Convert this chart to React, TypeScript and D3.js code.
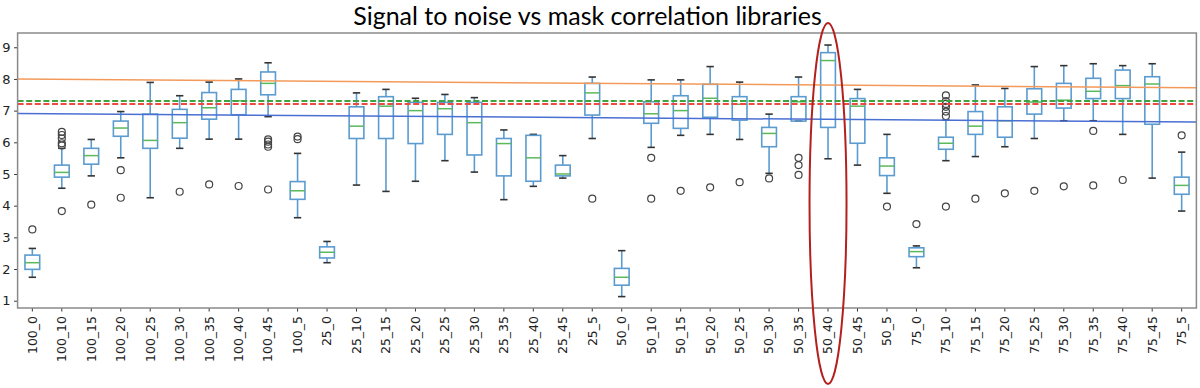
import React, { useEffect, useRef } from 'react';
import * as d3 from 'd3';

const categories = [
  '100_0', '100_10', '100_15', '100_20', '100_25', '100_30', '100_35', '100_40', '100_45', '100_5',
  '25_0', '25_10', '25_15', '25_20', '25_25', '25_30', '25_35', '25_40', '25_45', '25_5',
  '50_0', '50_10', '50_15', '50_20', '50_25', '50_30', '50_35', '50_40', '50_45', '50_5',
  '75_0', '75_10', '75_15', '75_20', '75_25', '75_30', '75_35', '75_40', '75_45', '75_5',
];

const whiskerLow = [
  1.74, 4.55, 4.94, 5.51, 4.25, 5.81, 6.1, 6.1, 6.81, 3.62,
  2.2, 4.65, 4.45, 4.77, 5.42, 5.06, 4.19, 4.61, 4.87, 6.12,
  1.13, 5.84, 6.22, 6.25, 6.09, 5.02, 6.67, 5.48, 5.28, 4.39,
  2.04, 5.42, 5.55, 5.86, 6.12, 6.68, 6.68, 6.25, 4.87, 3.83,
];
const q1 = [
  1.99, 4.9, 5.31, 6.19, 5.81, 6.13, 6.73, 6.87, 7.5, 4.2,
  2.35, 6.12, 6.12, 5.96, 6.25, 5.6, 4.94, 4.77, 4.94, 6.86,
  1.49, 6.6, 6.44, 6.79, 6.7, 5.86, 6.67, 6.47, 5.97, 4.95,
  2.39, 5.78, 6.25, 6.16, 6.89, 7.08, 7.38, 7.38, 6.57, 4.36,
];
const medians = [
  2.2, 5.05, 5.58, 6.45, 6.06, 6.62, 7.09, 7.31, 7.86, 4.47,
  2.53, 6.51, 7.14, 7.0, 7.06, 6.62, 5.96, 5.51, 5.0, 7.56,
  1.74, 6.9, 7.0, 7.39, 7.2, 6.28, 7.28, 8.58, 7.14, 5.25,
  2.55, 5.97, 6.51, 6.68, 7.27, 7.33, 7.61, 7.79, 7.84, 4.64,
];
const q3 = [
  2.44, 5.28, 5.81, 6.67, 6.89, 7.04, 7.57, 7.67, 8.22, 4.76,
  2.7, 7.12, 7.44, 7.26, 7.26, 7.26, 6.12, 6.22, 5.28, 7.86,
  2.02, 7.28, 7.47, 7.83, 7.44, 6.47, 7.44, 8.83, 7.38, 5.51,
  2.67, 6.16, 6.97, 7.12, 7.69, 7.86, 8.02, 8.28, 8.07, 4.9,
];
const whiskerHigh = [
  2.65, 5.81, 6.09, 6.97, 7.89, 7.47, 7.9, 8.0, 8.51, 5.65,
  2.87, 7.56, 7.67, 7.39, 7.51, 7.41, 6.39, 6.25, 5.58, 8.06,
  2.58, 7.97, 7.97, 8.39, 7.9, 6.89, 8.06, 9.07, 7.67, 6.25,
  2.73, 6.7, 7.81, 7.7, 8.39, 8.42, 8.48, 8.42, 8.48, 5.69,
];
const outliers = [
  [3.25], [6.33, 6.23, 6.12, 5.97, 5.9, 3.83], [4.03], [5.12, 4.25], [], [4.44], [4.67], [4.62], [6.09, 6.02, 5.93, 5.86, 4.51], [6.18, 6.1],
  [], [], [], [], [], [], [], [], [], [4.22],
  [], [5.51, 4.22], [4.47], [4.58], [4.74], [4.86], [5.51, 5.28, 4.97], [], [], [3.97],
  [3.42], [7.48, 7.3, 7.21, 7.12, 6.97, 6.83, 3.97], [4.22], [4.39], [4.47], [4.61], [6.36, 4.64], [4.81], [], [6.22],
];

// reference lines: value at left edge, value at right edge
const orangeTrend = [8.0, 7.72];
const blueTrend = [6.91, 6.64];
const greenLevel = 7.3;
const redLevel = 7.21;
const yTicks = [1, 2, 3, 4, 5, 6, 7, 8, 9];

const App = () => {
  const svgRef = useRef<SVGSVGElement>(null);

  const width = 1200;
  const height = 388;
  const marginTop = 33;
  const marginRight = 3.6;
  const marginBottom = 80;
  const marginLeft = 17.6;

  useEffect(() => {
    const svg = d3.select(svgRef.current);
    svg.selectAll('*').remove();

    const x = d3.scaleBand<string>()
      .domain(categories)
      .range([marginLeft, width - marginRight])
      .padding(0);

    const y = d3.scaleLinear()
      .domain([0.77, 9.45])
      .range([height - marginBottom, marginTop]);

    const bw = x.bandwidth();
    const boxW = bw * 0.5;
    const capW = boxW * 0.5;
    const cx = (c: string) => (x(c) as number) + bw / 2;

    svg.append('rect')
      .attr('x', 0).attr('y', 0).attr('width', width).attr('height', height)
      .attr('fill', '#fff');

    // Y axis
    svg.append('g')
      .attr('transform', `translate(${marginLeft},0)`)
      .call(d3.axisLeft(y).tickValues(yTicks).tickFormat(d3.format('d')).tickSize(3.5).tickPadding(3.5))
      .call(g => g.select('.domain').remove())
      .call(g => g.selectAll('line').attr('stroke', '#333'))
      .call(g => g.selectAll('text')
        .attr('fill', '#222')
        .attr('font-size', 13)
        .attr('font-family', 'DejaVu Sans'));

    // X axis
    svg.append('g')
      .attr('transform', `translate(0,${height - marginBottom})`)
      .call(d3.axisBottom(x).tickSize(3.5).tickPadding(3.5))
      .call(g => g.select('.domain').remove())
      .call(g => g.selectAll('line').attr('stroke', '#333'))
      .call(g => g.selectAll('text')
        .attr('fill', '#222')
        .attr('font-size', 12.5)
        .attr('font-family', 'DejaVu Sans')
        .attr('transform', 'rotate(-90)')
        .attr('text-anchor', 'end')
        .attr('x', -8)
        .attr('y', 0)
        .attr('dy', '0.35em'));

    const boxes = svg.append('g')
      .selectAll('g')
      .data(categories)
      .join('g');

    // whiskers
    boxes.append('line')
      .attr('x1', d => cx(d)).attr('x2', d => cx(d))
      .attr('y1', (d, i) => y(whiskerLow[i])).attr('y2', (d, i) => y(q1[i]))
      .attr('stroke', '#5b9bd0').attr('stroke-width', 1.6);
    boxes.append('line')
      .attr('x1', d => cx(d)).attr('x2', d => cx(d))
      .attr('y1', (d, i) => y(q3[i])).attr('y2', (d, i) => y(whiskerHigh[i]))
      .attr('stroke', '#5b9bd0').attr('stroke-width', 1.6);

    // caps
    boxes.append('line')
      .attr('x1', d => cx(d) - capW / 2).attr('x2', d => cx(d) + capW / 2)
      .attr('y1', (d, i) => y(whiskerLow[i])).attr('y2', (d, i) => y(whiskerLow[i]))
      .attr('stroke', '#333').attr('stroke-width', 1.6);
    boxes.append('line')
      .attr('x1', d => cx(d) - capW / 2).attr('x2', d => cx(d) + capW / 2)
      .attr('y1', (d, i) => y(whiskerHigh[i])).attr('y2', (d, i) => y(whiskerHigh[i]))
      .attr('stroke', '#333').attr('stroke-width', 1.6);

    // boxes
    boxes.append('rect')
      .attr('x', d => cx(d) - boxW / 2)
      .attr('width', boxW)
      .attr('y', (d, i) => y(q3[i]))
      .attr('height', (d, i) => y(q1[i]) - y(q3[i]))
      .attr('fill', 'none')
      .attr('stroke', '#5b9bd0').attr('stroke-width', 1.6);

    // medians
    boxes.append('line')
      .attr('x1', d => cx(d) - boxW / 2).attr('x2', d => cx(d) + boxW / 2)
      .attr('y1', (d, i) => y(medians[i])).attr('y2', (d, i) => y(medians[i]))
      .attr('stroke', '#5cb85c').attr('stroke-width', 1.5);

    // fliers
    boxes.selectAll('circle')
      .data((d, i) => outliers[i].map(v => ({ c: d, v })))
      .join('circle')
      .attr('cx', d => cx(d.c))
      .attr('cy', d => y(d.v))
      .attr('r', 3.5)
      .attr('fill', 'none')
      .attr('stroke', '#444')
      .attr('stroke-width', 1.2);

    const [x0, x1] = x.range();

    // reference lines
    const line = d3.line<[number, number]>();
    svg.append('path')
      .attr('d', line([[x0, y(orangeTrend[0])], [x1, y(orangeTrend[1])]]))
      .attr('stroke', '#f39a5a').attr('stroke-width', 1.5).attr('fill', 'none');
    svg.append('path')
      .attr('d', line([[x0, y(blueTrend[0])], [x1, y(blueTrend[1])]]))
      .attr('stroke', '#4a6fd2').attr('stroke-width', 1.5).attr('fill', 'none');
    svg.append('line')
      .attr('x1', x0).attr('x2', x1).attr('y1', y(greenLevel)).attr('y2', y(greenLevel))
      .attr('stroke', '#3fa33f').attr('stroke-width', 2).attr('stroke-dasharray', '6,2.6');
    svg.append('line')
      .attr('x1', x0).attr('x2', x1).attr('y1', y(redLevel)).attr('y2', y(redLevel))
      .attr('stroke', '#ec4a42').attr('stroke-width', 2).attr('stroke-dasharray', '6,2.6');

    // frame
    svg.append('rect')
      .attr('x', x0).attr('y', marginTop)
      .attr('width', x1 - x0).attr('height', height - marginBottom - marginTop)
      .attr('fill', 'none').attr('stroke', '#8a8a8a').attr('stroke-width', 1.5);

    // title
    svg.append('text')
      .attr('x', 587.5).attr('y', 25)
      .attr('text-anchor', 'middle')
      .attr('font-family', 'Lato')
      .attr('font-size', 25)
      .attr('fill', '#000')
      .text('Signal to noise vs mask correlation libraries');

    // highlight around 50_40
    svg.append('ellipse')
      .attr('cx', cx('50_40'))
      .attr('cy', (23 + 384) / 2)
      .attr('rx', 18.5)
      .attr('ry', (384 - 23) / 2)
      .attr('fill', 'none')
      .attr('stroke', '#b3201e')
      .attr('stroke-width', 2);
  }, []);

  return (
    <svg
      ref={svgRef}
      width={width}
      height={height}
      viewBox={`0 0 ${width} ${height}`}
      style={{ position: 'absolute', left: 0, top: 0 }}
    />
  );
};

export default App;
